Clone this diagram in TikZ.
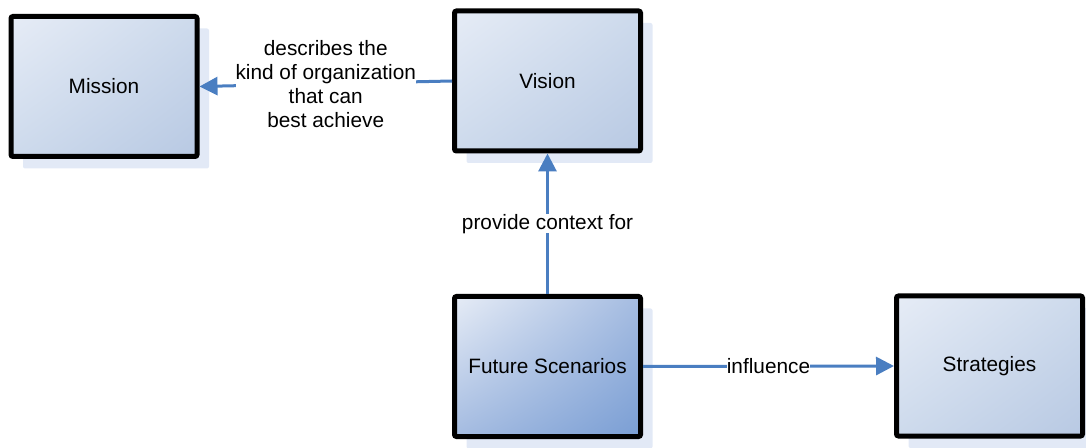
\documentclass[tikz,border=0pt]{standalone}
\usepackage{fontspec}
\setmainfont{Liberation Sans}
\usetikzlibrary{arrows.meta,shadows,shadings}
\definecolor{lineblue}{RGB}{74,126,193}
\definecolor{shadowblue}{RGB}{226,233,246}
\definecolor{paleA}{RGB}{230,236,246}
\definecolor{paleB}{RGB}{205,218,236}
\definecolor{paleC}{RGB}{184,201,227}
\definecolor{deepB}{RGB}{165,188,225}
\definecolor{deepC}{RGB}{122,158,212}

\begin{document}
\begin{tikzpicture}[x=1pt, y=1pt, >={Triangle[length=18pt,width=18pt]},
  box/.style={rectangle, rounded corners=2pt, draw=black, line width=5pt,
    minimum width=186pt, minimum height=140pt, inner sep=0pt,
    drop shadow={shadow xshift=12pt, shadow yshift=-12pt, fill=shadowblue, opacity=1},
    upper left=paleA, upper right=paleB, lower left=paleB, lower right=paleC,
    font=\fontsize{20.8}{25}\selectfont},
  link/.style={->, draw=lineblue, line width=3pt},
  tag/.style={fill=white, inner sep=0pt, align=center, font=\fontsize{20.8}{24}\selectfont}]
\useasboundingbox (0,0) rectangle (1086,447);
\node (mis) at (104,360.5) [box] {Mission};
\node (vis) at (547.5,366) [box] {Vision};
\node (fut) at (547.5,80.5) [box, upper right=deepB, lower left=deepB, lower right=deepC] {Future Scenarios};
\node (str) at (989.5,81) [box] {Strategies};
\draw[link] (vis.west) -- (mis.east) node[midway, tag] {describes the\\kind of organization\\that can\\best achieve};
\draw[link] (fut.north) -- (vis.south) node[midway, tag] {provide context for};
\draw[link] (fut.east) -- (str.west) node[midway, tag] {influence};
\end{tikzpicture}
\end{document}
